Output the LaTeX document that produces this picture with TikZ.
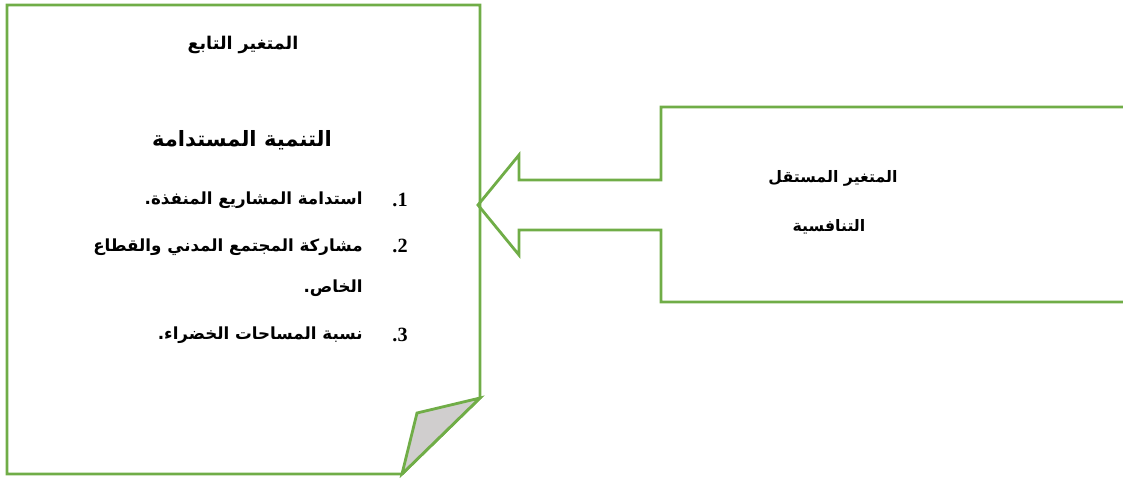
\documentclass[tikz,border=0pt]{standalone}
\usepackage{fontspec}
\setmainfont{Liberation Serif}
\newfontfamily\arabicfont[Script=Arabic]{DejaVu Sans}
\TeXXeTstate=1
\usetikzlibrary{positioning}
\definecolor{leaf}{RGB}{112,173,71}
\definecolor{flap}{RGB}{208,206,206}
\tikzset{
  frame/.style={draw=leaf, line width=1.6pt, line join=miter},
  head/.style={font=\arabicfont\bfseries\fontsize{10}{12}\selectfont, inner sep=0pt},
  sidetxt/.style={font=\arabicfont\bfseries\fontsize{9}{11}\selectfont, inner sep=0pt},
  titletxt/.style={font=\arabicfont\bfseries\fontsize{12}{14}\selectfont, inner sep=0pt},
  itemtxt/.style={font=\arabicfont\bfseries\fontsize{9.5}{11}\selectfont, inner sep=0pt, anchor=east},
  numtxt/.style={font=\bfseries\fontsize{11.5}{13}\selectfont, inner sep=0pt, anchor=east},
}

\begin{document}
\begin{tikzpicture}[x=0.02cm, y=-0.02cm]
    \useasboundingbox (0,0) rectangle (1123,477);
    % dependent variable sheet with folded corner
    \draw[frame, fill=white] (7,5) -- (480,5) -- (480,398) -- (402,474) -- (7,474) -- cycle;
    \draw[frame, fill=flap] (480,398) -- (417,413) -- (402,474) -- cycle;
    % independent variable box with arrow
    \draw[frame] (1123,107) -- (661,107) -- (661,180) -- (519,180) -- (519,155) -- (478,205)
      -- (519,255) -- (519,230) -- (661,230) -- (661,302) -- (1123,302);

    \node[head] (dep) at (243,45) {\beginR المتغير التابع\endR};
    \node[titletxt] (deptitle) at (242,140) {\beginR التنمية المستدامة\endR};
    \node[numtxt] (n1) at (408,200) {.1};
    \node[numtxt] (n2) at (408,246) {.2};
    \node[numtxt] (n3) at (408,335) {.3};
    \node[itemtxt] (i1) at (363,200) {\beginR استدامة المشاريع المنفذة.\endR};
    \node[itemtxt] (i2) at (363,247) {\beginR مشاركة المجتمع المدني والقطاع\endR};
    \node[itemtxt] (i2b) at (363,288) {\beginR الخاص.\endR};
    \node[itemtxt] (i3) at (363,335) {\beginR نسبة المساحات الخضراء.\endR};

    \node[sidetxt] (indep) at (833,178) {\beginR المتغير المستقل\endR};
    \node[sidetxt] (indepname) at (829,227) {\beginR التنافسية\endR};
\end{tikzpicture}
\end{document}
